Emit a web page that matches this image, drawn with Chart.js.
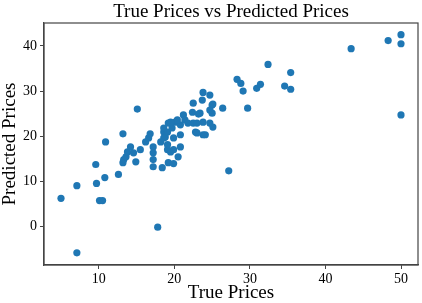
<!DOCTYPE html>
<html>
<head>
<meta charset="utf-8">
<script src="https://cdn.jsdelivr.net/npm/chart.js@4/dist/chart.umd.min.js"></script>
<style>
html,body{margin:0;padding:0;background:#fff;}
#wrap{width:422px;height:303px;}
</style>
</head>
<body>
<div id="wrap"><canvas id="c" width="422" height="303"></canvas></div>
<script>
const chartTitle = 'True Prices vs Predicted Prices';
const trueValues = [5.0,7.1,7.1,9.6,9.7,10.1,10.5,10.8,10.9,12.6,13.2,13.2,13.3,13.6,13.8,14.2,14.6,14.9,15.1,16.2,16.6,16.8,17.2,17.2,17.2,17.2,17.8,18.2,18.4,18.6,18.8,19.1,19.2,19.5,19.9,20.5,18.6,19.1,18.6,19.9,19.1,19.9,20.8,19.2,19.7,20.1,20.8,21.2,21.4,22.4,22.5,22.5,22.8,23.4,23.7,23.8,23.8,23.8,24.7,24.7,25.0,25.0,25.1,26.4,27.2,28.3,28.8,29.1,29.7,30.9,31.4,32.4,34.6,35.4,35.4,43.4,48.3,50.0,50.0,50.0,20.8,23.0,24.1,21.8,23.0,23.2,24.7,25.1,20.4,19.5,15.5];
const predictedValues = [6.2,9.0,-5.9,13.7,9.5,5.7,5.7,10.8,18.7,11.5,14.1,20.5,14.8,15.4,16.5,17.6,16.3,14.3,26.0,18.7,19.6,20.5,17.6,16.3,14.8,13.2,-0.2,18.7,13.0,20.9,19.8,17.0,14.1,16.5,13.9,15.4,21.8,20.9,19.6,19.6,18.1,17.0,17.6,22.9,21.8,23.1,22.5,24.7,23.6,25.3,27.3,22.9,20.9,25.1,28.0,29.7,23.1,20.3,29.1,22.9,26.9,25.1,22.0,26.2,12.3,32.6,31.7,30.0,26.2,30.6,31.5,35.9,31.1,30.4,34.1,39.4,41.2,42.5,40.5,24.7,20.3,20.7,20.3,22.9,22.9,24.9,25.8,27.1,23.6,23.1,17.0];
const xTicks = [10,20,30,40,50];
const yTicks = [0,10,20,30,40];

const points = trueValues.map((x,i)=>({x:x, y:predictedValues[i]}));
const serif = '"Liberation Serif","DejaVu Serif",serif';
const axisColor = '#444';

const boxPlugin = {
  id:'box',
  afterDraw(chart){
    const a = chart.chartArea, ctx = chart.ctx;
    ctx.save();
    ctx.strokeStyle = axisColor;
    ctx.lineWidth = 1.2;
    ctx.strokeRect(a.left, a.top, a.right-a.left, a.bottom-a.top);
    ctx.fillStyle = '#000';
    ctx.font = '19px ' + serif;
    ctx.textAlign = 'center';
    ctx.textBaseline = 'middle';
    ctx.fillText(chartTitle, (a.left + a.right)/2, 12.5);
    ctx.restore();
  }
};

new Chart(document.getElementById('c'), {
  type:'scatter',
  data:{datasets:[{
    data:points,
    backgroundColor:'#1f77b4',
    borderWidth:0,
    pointRadius:3.6,
    pointHoverRadius:3.6
  }]},
  options:{
    responsive:false,
    animation:false,
    devicePixelRatio:1,
    layout:{padding:{left:0,right:4,top:23,bottom:0}},
    plugins:{
      legend:{display:false},
      tooltip:{enabled:false},
      title:{display:false}
    },
    scales:{
      x:{
        type:'linear', min:2.75, max:52.25,
        afterBuildTicks(ax){ ax.ticks = xTicks.map(v=>({value:v})); },
        afterFit(ax){ ax.height = 38; },
        grid:{drawOnChartArea:false,drawTicks:true,tickLength:4,color:axisColor,tickColor:axisColor},
        border:{display:true,color:axisColor,width:1.2},
        ticks:{color:'#000',font:{family:serif,size:14},padding:2,maxRotation:0},
        title:{display:true,text:'True Prices',color:'#000',font:{family:serif,size:19,lineHeight:1.1},padding:{top:0,bottom:0}}
      },
      y:{
        type:'linear', min:-8.6, max:45.1,
        afterBuildTicks(ax){ ax.ticks = yTicks.map(v=>({value:v})); },
        afterFit(ax){ ax.width = 44; },
        grid:{drawOnChartArea:false,drawTicks:true,tickLength:4,color:axisColor,tickColor:axisColor},
        border:{display:true,color:axisColor,width:1.2},
        ticks:{color:'#000',font:{family:serif,size:14},padding:3},
        title:{display:true,text:'Predicted Prices',color:'#000',font:{family:serif,size:19,lineHeight:1.1},padding:{top:0,bottom:0}}
      }
    }
  },
  plugins:[boxPlugin]
});
</script>
</body>
</html>
